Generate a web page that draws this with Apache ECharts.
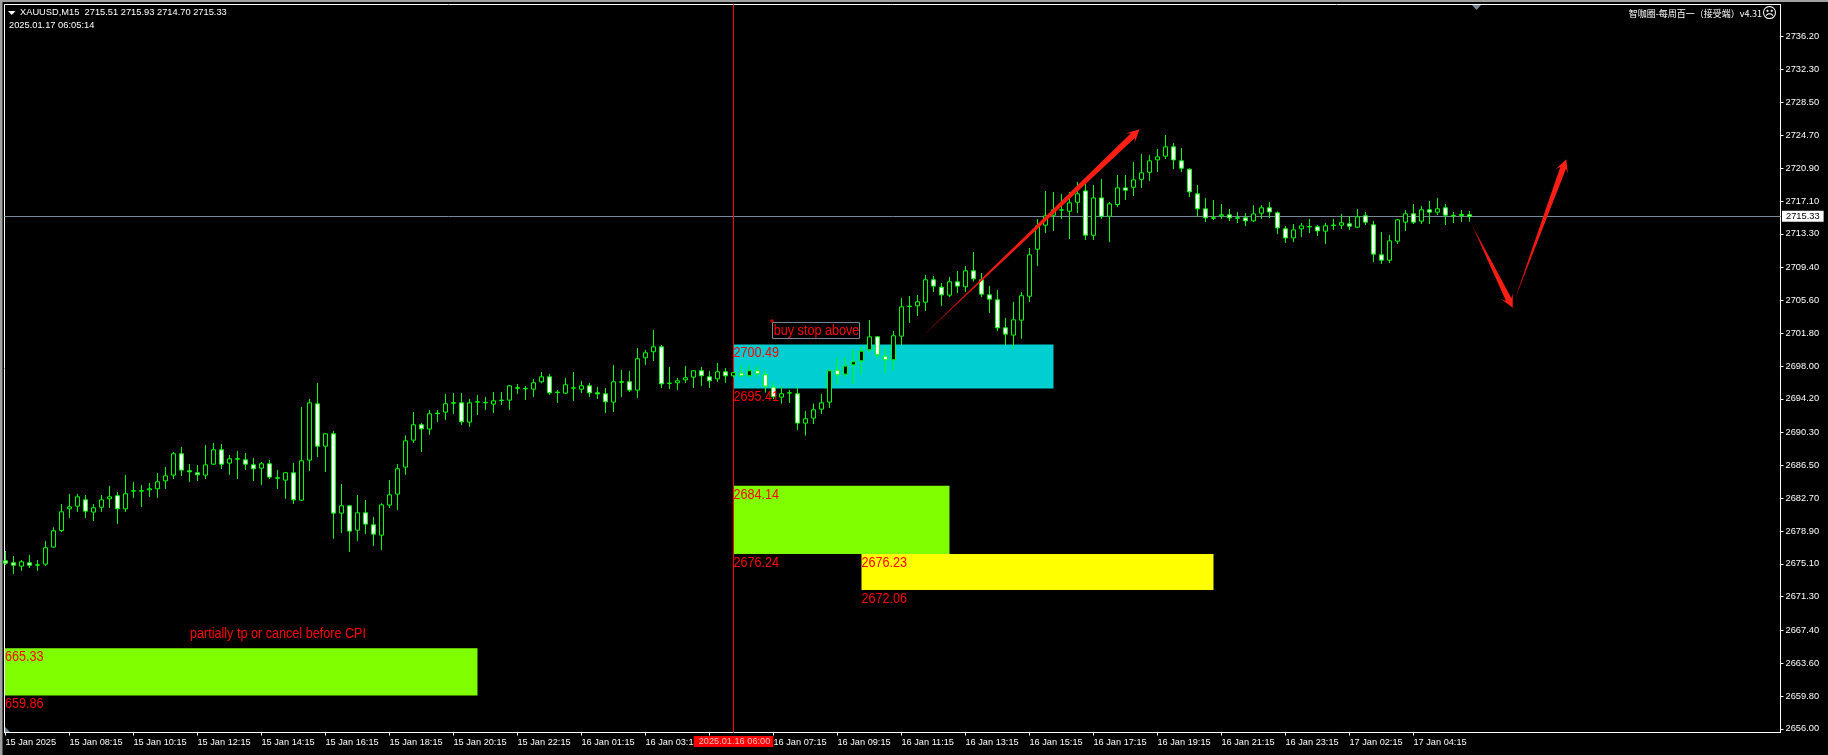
<!DOCTYPE html>
<html><head><meta charset="utf-8">
<style>html,body{margin:0;padding:0;background:#000;overflow:hidden}#c{width:1828px;height:755px}</style>
<script src="https://cdn.jsdelivr.net/npm/echarts@6/dist/echarts.min.js"></script>
</head><body><div id="c"></div>
<script>
const opens=[2675.45,2675.22,2674.84,2675.22,2674.99,2675.07,2677.04,2678.96,2681.47,2681.78,
2682.51,2681.09,2681.66,2682.63,2682.98,2681.47,2683.52,2683.56,2683.67,2683.79,
2684.71,2685.37,2687.84,2685.87,2685.64,2685.37,2686.64,2688.30,2686.76,2687.26,
2687.14,2686.56,2686.18,2686.68,2685.06,2684.79,2685.64,2682.47,2687.10,2693.62,
2688.72,2690.15,2680.97,2681.82,2679.00,2681.01,2679.62,2678.42,2681.90,2683.17,
2686.30,2689.42,2691.20,2690.70,2692.55,2692.66,2693.74,2693.74,2691.51,2693.82,
2693.74,2693.59,2694.01,2694.05,2695.48,2695.40,2695.32,2696.17,2696.75,2694.98,
2694.86,2695.44,2695.32,2695.71,2694.90,2694.78,2693.82,2696.17,2696.17,2695.21,
2698.95,2699.65,2700.22,2695.98,2696.06,2696.40,2696.71,2697.45,2696.75,2696.52,
2697.33,2696.87,2697.18,2696.87,2697.45,2696.98,2695.56,2694.40,2694.86,2694.79,
2691.39,2691.97,2693.01,2693.82,2697.52,2697.06,2698.14,2698.60,2699.88,2701.38,
2699.14,2698.72,2701.46,2704.89,2704.97,2705.39,2707.98,2707.13,2706.20,2707.75,
2707.17,2709.02,2707.98,2706.24,2705.66,2702.42,2701.58,2703.31,2706.08,2711.52,
2714.30,2715.46,2716.04,2715.92,2716.96,2718.27,2713.14,2717.46,2715.34,2716.69,
2718.62,2718.70,2719.62,2720.43,2721.86,2722.29,2723.37,2721.75,2720.78,2717.93,
2716.19,2715.15,2715.38,2715.50,2715.15,2715.15,2714.80,2715.69,2716.31,2715.73,
2713.88,2712.83,2713.88,2714.11,2714.11,2713.61,2714.31,2714.30,2714.46,2714.07,
2715.39,2714.34,2710.87,2710.25,2712.45,2714.65,2715.62,2714.77,2716.08,2715.81,
2716.31,2715.42,2715.42,2715.51];
const closes=[2675.18,2674.95,2675.34,2674.95,2674.95,2676.96,2678.93,2681.12,2681.70,2682.86,
2681.20,2681.59,2682.51,2682.86,2681.47,2683.21,2683.56,2683.52,2683.79,2684.60,
2685.29,2687.84,2685.95,2685.75,2685.41,2686.56,2688.30,2686.64,2687.26,2687.22,
2686.64,2686.10,2686.68,2685.14,2685.02,2685.64,2682.51,2687.03,2693.74,2688.72,
2690.15,2680.97,2681.82,2678.89,2681.01,2679.70,2678.54,2681.93,2683.09,2686.10,
2689.34,2691.20,2690.73,2692.47,2692.51,2693.63,2693.70,2691.54,2693.74,2693.86,
2693.78,2693.97,2694.05,2695.71,2695.44,2695.36,2696.06,2696.75,2694.90,2694.94,
2695.83,2695.48,2695.71,2694.90,2694.78,2693.86,2696.17,2696.13,2695.21,2698.84,
2699.53,2700.22,2695.94,2696.02,2696.29,2696.64,2697.45,2696.87,2696.29,2697.33,
2696.87,2697.22,2696.87,2697.45,2697.10,2695.67,2694.44,2694.79,2694.90,2691.39,
2691.89,2692.93,2693.74,2697.45,2696.98,2697.99,2698.49,2699.72,2701.38,2699.30,
2698.72,2701.50,2704.85,2704.93,2705.43,2707.98,2707.25,2706.24,2707.75,2707.25,
2709.02,2708.10,2706.32,2705.74,2702.42,2701.69,2703.35,2706.13,2710.87,2714.22,
2715.38,2716.08,2716.08,2716.89,2717.93,2713.14,2717.46,2715.34,2716.77,2718.62,
2718.35,2719.55,2720.36,2721.75,2722.21,2723.37,2721.86,2720.90,2718.16,2716.19,
2715.15,2715.11,2715.50,2715.15,2715.11,2714.80,2715.61,2716.31,2715.84,2713.99,
2712.83,2713.76,2714.22,2714.15,2713.64,2714.23,2714.27,2714.58,2714.19,2715.27,
2714.65,2710.95,2710.25,2712.49,2714.92,2715.62,2714.65,2716.08,2715.81,2716.20,
2715.46,2715.38,2715.54,2715.33];
const lows=[2674.97,2673.93,2674.28,2674.62,2674.28,2674.86,2676.98,2678.79,2680.41,2681.11,
2680.41,2680.06,2681.11,2681.57,2679.72,2681.11,2682.73,2681.68,2682.84,2682.73,
2683.77,2684.92,2685.27,2684.58,2684.69,2684.92,2686.54,2686.08,2685.39,2684.92,
2685.97,2684.69,2684.23,2684.92,2683.77,2682.61,2682.03,2682.38,2685.85,2687.47,
2685.73,2677.98,2678.67,2676.48,2677.75,2678.56,2677.17,2676.71,2681.57,2681.34,
2685.39,2689.09,2688.05,2690.02,2691.52,2691.76,2692.45,2691.18,2690.95,2692.33,
2692.91,2692.57,2693.49,2692.91,2694.77,2694.07,2694.42,2696.00,2694.65,2693.72,
2694.77,2693.96,2694.88,2694.42,2694.19,2692.57,2692.68,2694.42,2695.00,2694.30,
2698.12,2698.58,2695.46,2695.34,2695.23,2696.04,2695.46,2695.69,2695.46,2696.15,
2696.04,2696.69,2696.70,2696.70,2696.70,2694.92,2694.15,2693.65,2693.72,2690.60,
2689.94,2691.29,2692.45,2693.15,2695.81,2696.70,2695.92,2697.00,2699.63,2698.93,
2697.16,2697.47,2700.44,2702.98,2703.79,2704.37,2706.57,2704.95,2705.99,2706.46,
2706.57,2707.77,2705.99,2704.14,2702.06,2700.44,2699.97,2701.13,2705.41,2709.57,
2713.39,2713.63,2715.01,2712.70,2715.71,2712.58,2712.58,2715.01,2712.35,2716.40,
2717.21,2717.68,2718.60,2719.41,2720.45,2721.96,2720.80,2720.45,2717.56,2715.28,
2714.67,2714.90,2715.01,2714.78,2714.55,2714.20,2714.67,2715.01,2715.13,2713.28,
2712.24,2712.35,2712.93,2713.39,2713.05,2712.13,2713.75,2713.86,2713.75,2713.98,
2714.32,2710.04,2709.81,2709.93,2712.13,2713.63,2714.44,2714.44,2714.44,2715.48,
2714.32,2714.56,2714.67,2714.70];
const highs=[2676.59,2676.01,2675.55,2676.13,2675.55,2677.75,2679.33,2682.03,2683.19,2683.19,
2683.07,2682.03,2683.07,2684.11,2683.42,2685.39,2684.58,2684.23,2684.46,2685.62,
2686.31,2688.05,2688.63,2686.66,2686.54,2688.86,2689.09,2688.98,2687.70,2688.17,
2687.93,2687.35,2686.89,2687.12,2685.97,2685.73,2686.78,2693.26,2694.18,2696.04,
2690.25,2690.48,2684.35,2681.92,2683.07,2682.49,2680.53,2682.11,2684.81,2686.66,
2689.98,2692.68,2691.41,2692.91,2692.91,2694.77,2694.88,2694.88,2694.19,2694.65,
2694.42,2695.00,2695.00,2695.81,2695.92,2695.69,2696.50,2697.31,2697.08,2695.23,
2696.62,2697.31,2696.27,2696.04,2695.58,2695.46,2698.12,2697.54,2697.43,2700.09,
2699.86,2702.17,2700.44,2697.89,2696.62,2698.01,2697.50,2697.89,2697.43,2698.35,
2697.77,2697.31,2698.08,2698.08,2698.01,2697.47,2696.08,2695.69,2695.23,2695.46,
2692.80,2693.65,2694.77,2697.62,2698.93,2699.01,2699.90,2700.24,2703.33,2701.48,
2700.17,2702.06,2705.88,2706.11,2706.22,2708.54,2708.42,2707.61,2708.31,2709.00,
2709.58,2711.20,2708.77,2707.27,2706.80,2703.56,2705.41,2706.57,2711.66,2715.01,
2718.26,2718.14,2717.91,2718.14,2719.30,2719.07,2718.95,2719.64,2716.98,2720.11,
2720.11,2721.61,2722.54,2722.42,2723.12,2724.74,2723.81,2723.23,2720.88,2718.95,
2717.44,2717.21,2716.75,2716.17,2715.82,2715.71,2716.63,2716.63,2716.98,2715.90,
2714.20,2714.44,2714.55,2715.01,2714.32,2714.56,2715.02,2715.60,2715.37,2716.18,
2715.83,2714.79,2713.51,2713.17,2715.02,2716.06,2716.75,2716.52,2717.10,2717.45,
2716.75,2715.83,2716.06,2715.93];
const xTickIndex=[0,8,16,24,32,40,48,56,64,72,80,88,96,104,112,120,128,136,144,152,160,168,176];
const xTickLabels=['15 Jan 2025','15 Jan 08:15','15 Jan 10:15','15 Jan 12:15','15 Jan 14:15','15 Jan 16:15','15 Jan 18:15','15 Jan 20:15','15 Jan 22:15','16 Jan 01:15','16 Jan 03:15','16 Jan 05:15','16 Jan 07:15','16 Jan 09:15','16 Jan 11:15','16 Jan 13:15','16 Jan 15:15','16 Jan 17:15','16 Jan 19:15','16 Jan 21:15','16 Jan 23:15','17 Jan 02:15','17 Jan 04:15'];
const yTicks=[2656.00,2659.80,2663.60,2667.40,2671.30,2675.10,2678.90,2682.70,2686.50,2690.30,2694.20,2698.00,2701.80,2705.60,2709.40,2713.30,2717.10,2720.90,2724.70,2728.50,2732.30,2736.20];
const lastPrice=2715.33;
const crossIndex=91, crossLabel='2025.01.16 06:00';
// zones: from index, to index, top price, bottom price
const zoneFrom=[91,91,107,-0.06], zoneTo=[131,118,151,59];
const zoneTop=[2700.49,2684.14,2676.23,2665.33], zoneBottom=[2695.41,2676.24,2672.06,2659.86];
const zoneColor=['#00CED1','#7FFF00','#FFFF00','#7FFF00'];
// arrows: start index, start price, end index, end price
const arrowFromX=[113.9,183.2,188.5], arrowFromY=[2700.81,2714.52,2705.29];
const arrowToX=[141.75,188.4,195.1], arrowToY=[2725.40,2704.75,2721.93];
// notes
const noteX=[91,91,91,91,107,107,-0.06,-0.06,23.05];
const noteY=[2700.49,2695.41,2684.14,2676.24,2676.23,2672.06,2665.33,2659.86,2668.0];
const noteText=['2700.49','2695.41','2684.14','2676.24','2676.23','2672.06','665.33','659.86','partially tp or cancel before CPI'];
const boxLeft=95.97, boxRight=106.9, boxTop=2703.06, boxBottom=2701.16, boxText='buy stop above';

const SANS='"Liberation Sans",Arial,sans-serif';
const NOTE_SQUEEZE=0.82;
const chart=echarts.init(document.getElementById('c'),null,{renderer:'canvas'});
const candles=opens.map((o,i)=>[i,o,closes[i],lows[i],highs[i]]);
const G={
 backgroundColor:'#000',animation:false,tooltip:{show:false},
 grid:{left:4.5,top:4.5,width:1776,height:728,show:true,borderColor:'#fff',borderWidth:1,backgroundColor:'#000'},
 xAxis:{type:'value',min:-0.125,max:221.875,splitLine:{show:false},
  axisLine:{show:true,onZero:false,lineStyle:{color:'#fff',width:1}},
  axisTick:{show:true,length:3,inside:false,lineStyle:{color:'#fff'},customValues:xTickIndex},
  axisLabel:{show:true,customValues:xTickIndex,margin:5,align:'left',color:'#fff',fontFamily:SANS,fontSize:9.2,hideOverlap:false,
    formatter:v=>{const k=xTickIndex.indexOf(Math.round(v));return k<0?'':xTickLabels[k];}}},
 yAxis:{type:'value',position:'right',scale:true,min:2655.578,max:2739.847,splitLine:{show:false},
  axisLine:{show:true,onZero:false,lineStyle:{color:'#fff',width:1}},
  axisTick:{show:true,length:3,lineStyle:{color:'#fff'},customValues:yTicks},
  axisLabel:{show:true,customValues:yTicks,margin:5,color:'#fff',fontFamily:SANS,fontSize:9.3,hideOverlap:false,formatter:v=>v.toFixed(2)}},
 series:[
  {type:'custom',name:'zones',z:0,clip:true,silent:true,coordinateSystem:'cartesian2d',
   data:zoneFrom.map((f,i)=>[f,zoneTop[i],zoneTo[i],zoneBottom[i]]),encode:{x:[0,2],y:[1,3]},
   renderItem:(p,api)=>{const a=api.coord([api.value(0),api.value(1)]),b=api.coord([api.value(2),api.value(3)]);
     return {type:'rect',shape:{x:a[0],y:a[1],width:b[0]-a[0],height:b[1]-a[1]},style:{fill:zoneColor[p.dataIndex]}};},
   markLine:{z:1,silent:true,symbol:'none',animation:false,precision:4,
     data:[
      {yAxis:lastPrice,lineStyle:{color:'#778899',width:1,type:'solid'},
       label:{show:true,position:'end',distance:1.5,formatter:lastPrice.toFixed(2),color:'#000',backgroundColor:'#fff',padding:[1,4,1,4],lineHeight:9,fontFamily:SANS,fontSize:9.3}},
      {xAxis:crossIndex,lineStyle:{color:'#ff0000',width:1,type:'solid'},
       label:{show:true,position:'start',distance:3.5,formatter:crossLabel,color:'#e8c0c0',backgroundColor:'#ff0000',padding:[1,3,1,5],lineHeight:9,fontFamily:SANS,fontSize:9.2}}
     ]}},
  {type:'candlestick',name:'XAUUSD',z:2,silent:true,barWidth:4,clip:true,data:candles,encode:{x:0,y:[1,2,3,4]},
   itemStyle:{color:'#000',color0:'#fff',borderColor:'#00ff00',borderColor0:'#00ff00',borderColorDoji:'#00ff00',borderWidth:1}},
  {type:'custom',name:'arrows',z:3,silent:true,clip:true,
   data:arrowFromX.map((x,i)=>[x,arrowFromY[i],arrowToX[i],arrowToY[i]]),encode:{x:[0,2],y:[1,3]},
   renderItem:(p,api)=>{const a=api.coord([api.value(0),api.value(1)]),b=api.coord([api.value(2),api.value(3)]);
     const dx=b[0]-a[0],dy=b[1]-a[1],L=Math.hypot(dx,dy),ux=dx/L,uy=dy/L,nx=-uy,ny=ux;
     const at=(d,w)=>[b[0]-ux*d+nx*w,b[1]-uy*d+ny*w];
     return {type:'polygon',shape:{points:[a,at(9,3),at(13,6.5),b,at(13,-6.5),at(9,-3)]},
       style:{fill:new echarts.graphic.LinearGradient(a[0],a[1],b[0],b[1],[{offset:0,color:'#600000'},{offset:0.12,color:'#c01008'},{offset:0.35,color:'#f01a10'},{offset:1,color:'#ff2015'}],true)}};}},
  {type:'custom',name:'box',z:4,silent:true,clip:false,data:[[boxLeft,boxTop,boxRight,boxBottom]],encode:{x:[0,2],y:[1,3]},
   renderItem:(p,api)=>{const a=api.coord([api.value(0),api.value(1)]),b=api.coord([api.value(2),api.value(3)]);
     return {type:'group',children:[
      {type:'rect',shape:{x:Math.round(a[0])-0.5,y:Math.round(a[1])+0.5,width:Math.round(b[0]-a[0]),height:Math.round(b[1]-a[1])},style:{fill:'rgba(0,0,0,0)',stroke:'#778899',lineWidth:1}},
      {type:'rect',shape:{x:Math.round(a[0])-2,y:Math.round(a[1])-2,width:2,height:2},style:{fill:'#000',stroke:'#ff0000',lineWidth:1}},
      {type:'text',x:a[0]+0.5,y:(a[1]+b[1])/2+0.5,scaleX:NOTE_SQUEEZE,style:{x:0,y:0,text:boxText,fill:'#ff0000',font:'15.4px '+SANS,verticalAlign:'middle',align:'left'}}
     ]};}},
  {type:'custom',name:'notes',z:5,silent:true,clip:false,data:noteX.map((x,i)=>[x,noteY[i]]),encode:{x:0,y:1},
   renderItem:(p,api)=>{const a=api.coord([api.value(0),api.value(1)]);
     return {type:'text',x:a[0],y:a[1]+1,scaleX:NOTE_SQUEEZE,style:{x:0,y:0,text:noteText[p.dataIndex],fill:'#ff0000',font:'15.4px '+SANS,verticalAlign:'top',align:'left'}};}}
 ],
 graphic:[
  {type:'rect',silent:true,z:50,shape:{x:0,y:0,width:1828,height:2},style:{fill:'#a0a0a0'}},
  {type:'rect',silent:true,z:50,shape:{x:0,y:0,width:2.5,height:755},style:{fill:'#a0a0a0'}},
  {type:'polygon',silent:true,z:50,shape:{points:[[8,11],[15.5,11],[11.75,15]]},style:{fill:'#fff'}},
  {type:'text',silent:true,z:50,style:{x:20,y:12.5,text:'XAUUSD,M15  2715.51 2715.93 2714.70 2715.33',fill:'#fff',font:'9.3px '+SANS,verticalAlign:'middle'}},
  {type:'text',silent:true,z:50,style:{x:9,y:25.5,text:'2025.01.17 06:05:14',fill:'#fff',font:'9.3px '+SANS,verticalAlign:'middle'}},
  {type:'text',silent:true,z:50,style:{x:1762,y:13.5,align:'right',text:'智咖圈-每周百一（接受端）v4.31',fill:'#fff',font:'9px "Noto Sans CJK SC",sans-serif',verticalAlign:'middle'}},
  {type:'text',silent:true,z:50,style:{x:1769.5,y:14,align:'center',text:'☹',fill:'#fff',font:'15px "DejaVu Sans",sans-serif',verticalAlign:'middle'}},
  {type:'polygon',silent:true,z:50,shape:{points:[[1472,5],[1481,5],[1476.5,10]]},style:{fill:'#778899'}},
  {type:'polygon',silent:true,z:50,shape:{points:[[5,727],[5,732],[10,732]]},style:{fill:'#778899'}}
 ]
};
chart.setOption(G);
</script></body></html>
